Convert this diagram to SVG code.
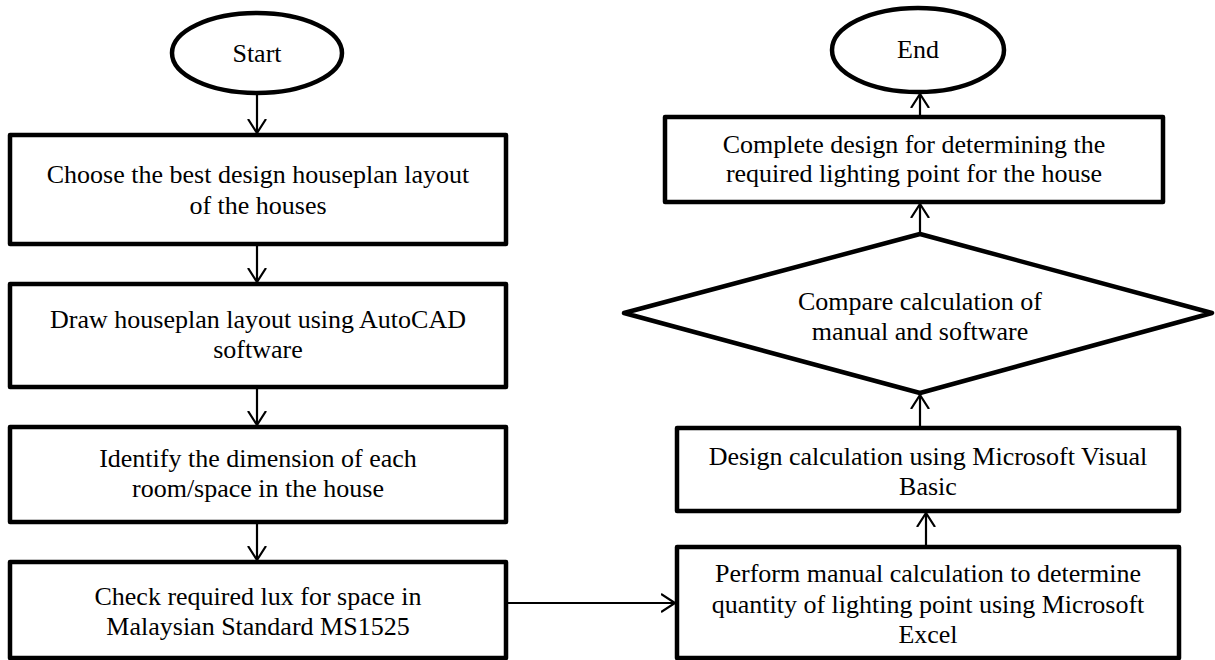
<svg xmlns="http://www.w3.org/2000/svg" width="1215" height="660" viewBox="0 0 1215 660">
<style>
.box{fill:#fff;stroke:#000;stroke-width:4.5;stroke-linejoin:round}
.term{fill:#fff;stroke:#000;stroke-width:4.5}
.t{font-family:"Liberation Serif","Times New Roman",serif;font-size:26px;fill:#000;text-anchor:middle}
.c{fill:none;stroke:#000;stroke-width:2.2}
</style>
<defs>
<marker id="ah" markerWidth="20" markerHeight="20" refX="14" refY="10" orient="auto" markerUnits="userSpaceOnUse">
<path d="M0,1 L14,10 L0,19" fill="none" stroke="#000" stroke-width="2.2"/>
</marker>
</defs>
<g id="connectors">
<line class="c" x1="257" y1="93" x2="257" y2="133" marker-end="url(#ah)"/>
<line class="c" x1="257" y1="244" x2="257" y2="282" marker-end="url(#ah)"/>
<line class="c" x1="257" y1="387" x2="257" y2="425" marker-end="url(#ah)"/>
<line class="c" x1="257" y1="522" x2="257" y2="560" marker-end="url(#ah)"/>
<line class="c" x1="506" y1="603" x2="675" y2="603" marker-end="url(#ah)"/>
<line class="c" x1="926" y1="546" x2="926" y2="513" marker-end="url(#ah)"/>
<line class="c" x1="920" y1="426" x2="920" y2="395" marker-end="url(#ah)"/>
<line class="c" x1="920" y1="234" x2="920" y2="204" marker-end="url(#ah)"/>
<line class="c" x1="920" y1="115" x2="920" y2="94" marker-end="url(#ah)"/>
</g>
<g id="start">
<ellipse class="term" cx="257" cy="53" rx="85" ry="40"/>
<text class="t" x="257" y="62">Start</text>
</g>
<g id="choose">
<rect class="box" x="10" y="135" width="496" height="109"/>
<text class="t" x="258" y="183">Choose the best design houseplan layout</text>
<text class="t" x="258" y="214">of the houses</text>
</g>
<g id="draw">
<rect class="box" x="10" y="284" width="496" height="103"/>
<text class="t" x="258" y="328">Draw houseplan layout using AutoCAD</text>
<text class="t" x="258" y="358">software</text>
</g>
<g id="identify">
<rect class="box" x="10" y="427" width="496" height="95"/>
<text class="t" x="258" y="467">Identify the dimension of each</text>
<text class="t" x="258" y="497">room/space in the house</text>
</g>
<g id="check">
<rect class="box" x="10" y="562" width="496" height="96"/>
<text class="t" x="258" y="605">Check required lux for space in</text>
<text class="t" x="258" y="635">Malaysian Standard MS1525</text>
</g>
<g id="perform">
<rect class="box" x="677" y="547" width="502" height="111"/>
<text class="t" x="928" y="582">Perform manual calculation to determine</text>
<text class="t" x="928" y="613">quantity of lighting point using Microsoft</text>
<text class="t" x="928" y="643">Excel</text>
</g>
<g id="design">
<rect class="box" x="677" y="428" width="502" height="83"/>
<text class="t" x="928" y="465">Design calculation using Microsoft Visual</text>
<text class="t" x="928" y="495">Basic</text>
</g>
<g id="compare">
<polygon class="box" points="920,234 1212,313 920,393 624,313"/>
<text class="t" x="920" y="310">Compare calculation of</text>
<text class="t" x="920" y="340">manual and software</text>
</g>
<g id="complete">
<rect class="box" x="665" y="117" width="498" height="85"/>
<text class="t" x="914" y="153">Complete design for determining the</text>
<text class="t" x="914" y="182">required lighting point for the house</text>
</g>
<g id="end">
<ellipse class="term" cx="918" cy="50" rx="86" ry="42"/>
<text class="t" x="918" y="58">End</text>
</g>
</svg>
